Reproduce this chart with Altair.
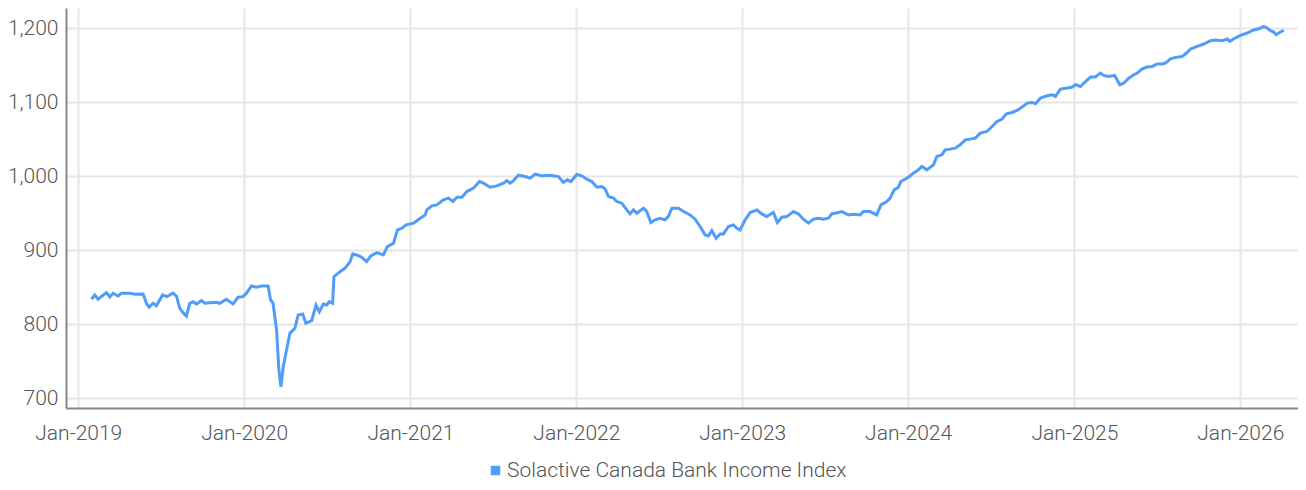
import altair as alt
import pandas as pd

series_name = "Solactive Canada Bank Income Index"

# decimal year, index value
years = [
    2019.080, 2019.099, 2019.119, 2019.170, 2019.190, 2019.210, 2019.240, 2019.260, 2019.310, 2019.341,
    2019.391, 2019.411, 2019.427, 2019.451, 2019.471, 2019.508, 2019.535, 2019.571, 2019.592, 2019.612,
    2019.632, 2019.652, 2019.672, 2019.692, 2019.713, 2019.743, 2019.763, 2019.793, 2019.833, 2019.853,
    2019.893, 2019.933, 2019.963, 2019.993, 2020.014, 2020.044, 2020.074, 2020.104, 2020.144, 2020.159,
    2020.174, 2020.195, 2020.209, 2020.221, 2020.235, 2020.255, 2020.275, 2020.305, 2020.325, 2020.352,
    2020.371, 2020.406, 2020.432, 2020.452, 2020.476, 2020.496, 2020.512, 2020.532, 2020.540, 2020.576,
    2020.607, 2020.637, 2020.653, 2020.677, 2020.707, 2020.737, 2020.761, 2020.798, 2020.837, 2020.861,
    2020.898, 2020.922, 2020.948, 2020.974, 2021.018, 2021.059, 2021.089, 2021.099, 2021.129, 2021.159,
    2021.199, 2021.229, 2021.256, 2021.280, 2021.310, 2021.340, 2021.380, 2021.416, 2021.440, 2021.480,
    2021.521, 2021.561, 2021.581, 2021.601, 2021.621, 2021.651, 2021.691, 2021.722, 2021.752, 2021.792,
    2021.842, 2021.892, 2021.922, 2021.946, 2021.967, 2022.003, 2022.033, 2022.063, 2022.093, 2022.124,
    2022.154, 2022.174, 2022.194, 2022.224, 2022.244, 2022.274, 2022.304, 2022.324, 2022.344, 2022.365,
    2022.405, 2022.425, 2022.449, 2022.475, 2022.505, 2022.535, 2022.555, 2022.576, 2022.616, 2022.646,
    2022.686, 2022.716, 2022.746, 2022.776, 2022.796, 2022.817, 2022.843, 2022.867, 2022.887, 2022.917,
    2022.947, 2022.968, 2022.987, 2023.018, 2023.048, 2023.088, 2023.118, 2023.148, 2023.188, 2023.212,
    2023.239, 2023.269, 2023.309, 2023.339, 2023.369, 2023.399, 2023.429, 2023.459, 2023.490, 2023.520,
    2023.540, 2023.580, 2023.600, 2023.640, 2023.670, 2023.711, 2023.731, 2023.771, 2023.811, 2023.836,
    2023.872, 2023.892, 2023.916, 2023.942, 2023.956, 2023.982, 2024.008, 2024.032, 2024.062, 2024.083,
    2024.113, 2024.153, 2024.173, 2024.203, 2024.223, 2024.253, 2024.283, 2024.313, 2024.344, 2024.374,
    2024.404, 2024.434, 2024.474, 2024.505, 2024.535, 2024.565, 2024.591, 2024.625, 2024.655, 2024.685,
    2024.716, 2024.746, 2024.766, 2024.796, 2024.836, 2024.866, 2024.886, 2024.916, 2024.957, 2024.987,
    2025.007, 2025.037, 2025.057, 2025.097, 2025.127, 2025.157, 2025.177, 2025.207, 2025.242, 2025.274,
    2025.298, 2025.328, 2025.358, 2025.379, 2025.409, 2025.439, 2025.469, 2025.499, 2025.529, 2025.549,
    2025.579, 2025.609, 2025.650, 2025.676, 2025.700, 2025.740, 2025.780, 2025.820, 2025.851, 2025.891,
    2025.921, 2025.937, 2025.961, 2026.001, 2026.042, 2026.081, 2026.112, 2026.142, 2026.162, 2026.182,
    2026.202, 2026.216, 2026.242, 2026.262,
]

values = [
    833.8, 839.6, 834.0, 842.7, 837.0, 841.9, 838.2, 842.0, 842.0, 840.5,
    841.0, 828.4, 823.0, 828.4, 825.0, 839.6, 837.3, 842.0, 838.2, 821.6,
    815.7, 811.2, 828.4, 830.5, 827.4, 831.9, 828.4, 829.2, 829.7, 828.4,
    833.8, 827.4, 836.5, 837.3, 842.0, 851.8, 850.0, 851.8, 851.8, 832.8,
    828.4, 792.0, 738.0, 715.7, 742.7, 765.3, 787.8, 794.6, 812.6, 813.9,
    801.4, 805.0, 826.0, 817.0, 827.4, 826.0, 830.5, 828.4, 864.3, 871.0,
    875.7, 884.6, 895.0, 893.6, 890.5, 884.6, 892.3, 896.8, 893.6, 904.9,
    909.5, 927.4, 929.7, 934.2, 936.5, 943.2, 947.7, 954.5, 959.9, 961.2,
    968.0, 970.3, 965.7, 971.6, 971.6, 979.2, 983.8, 992.7, 990.5, 985.1,
    986.9, 990.5, 994.0, 990.5, 994.0, 1001.3, 999.5, 997.3, 1002.7, 1000.4,
    1001.3, 999.5, 991.4, 995.0, 992.7, 1002.2, 1000.4, 995.9, 992.7, 985.1,
    986.0, 982.4, 972.4, 970.3, 965.7, 963.5, 954.5, 949.0, 954.5, 950.0,
    956.8, 952.2, 937.3, 941.0, 943.2, 941.0, 945.7, 956.8, 956.8, 952.2,
    947.7, 941.9, 932.0, 920.7, 919.3, 926.5, 916.2, 922.0, 922.0, 932.0,
    934.2, 929.7, 927.4, 941.0, 950.9, 954.5, 949.0, 945.4, 950.9, 937.3,
    944.5, 945.4, 952.2, 949.0, 941.9, 936.5, 941.9, 943.2, 941.9, 943.2,
    949.0, 950.9, 952.2, 947.7, 948.6, 947.7, 952.2, 952.2, 947.7, 961.2,
    965.7, 970.3, 981.5, 985.1, 992.7, 995.9, 999.5, 1004.0, 1008.5, 1013.0,
    1008.5, 1015.3, 1026.5, 1028.8, 1035.5, 1036.5, 1037.8, 1042.3, 1049.0, 1050.0,
    1051.4, 1058.1, 1060.3, 1067.0, 1073.8, 1077.0, 1084.2, 1086.0, 1088.6, 1093.2,
    1098.6, 1099.5, 1097.7, 1105.4, 1108.5, 1109.9, 1107.6, 1117.6, 1118.9, 1120.3,
    1123.4, 1121.1, 1125.7, 1133.8, 1133.8, 1139.2, 1136.0, 1134.6, 1136.0, 1123.4,
    1125.7, 1132.4, 1136.9, 1139.2, 1145.0, 1147.3, 1148.1, 1151.4, 1151.4, 1152.7,
    1158.5, 1160.3, 1161.6, 1166.2, 1171.6, 1175.1, 1178.4, 1182.8, 1183.8, 1182.8,
    1185.1, 1181.9, 1185.5, 1190.0, 1193.2, 1197.3, 1199.0, 1202.2, 1200.0, 1196.4,
    1194.6, 1191.0, 1194.6, 1196.8,
]

y_ticks = [700, 800, 900, 1000, 1100, 1200]
x_ticks = ["2019-01-01", "2020-01-01", "2021-01-01", "2022-01-01", "2023-01-01",
           "2024-01-01", "2025-01-01", "2026-01-01"]


def to_date(dy):
    yr = int(dy)
    start = pd.Timestamp(yr, 1, 1)
    days = (pd.Timestamp(yr + 1, 1, 1) - start).days
    return start + pd.Timedelta(days=(dy - yr) * days)


df = pd.DataFrame({
    "date": [to_date(d) for d in years],
    "value": values,
    "series": series_name,
})

LINE = "#4f9df8"
FONT = "Roboto"

chart = alt.Chart(df).mark_line(strokeWidth=3, interpolate="linear").encode(
    x=alt.X(
        "date:T",
        scale=alt.Scale(domain=["2018-12-05", "2026-05-08"]),
        axis=alt.Axis(
            title=None,
            format="%b-%Y",
            values=x_ticks,
            labelPadding=14,
            ticks=False,
        ),
    ),
    y=alt.Y(
        "value:Q",
        scale=alt.Scale(domain=[687, 1227], nice=False, zero=False),
        axis=alt.Axis(
            title=None,
            values=y_ticks,
            format=",.0f",
            labelPadding=8,
            ticks=False,
        ),
    ),
    color=alt.Color(
        "series:N",
        scale=alt.Scale(range=[LINE]),
        legend=alt.Legend(
            title=None,
            orient="none",
            legendX=419,
            legendY=452,
            symbolType="square",
            symbolFillColor=LINE,
            symbolStrokeWidth=0,
            symbolSize=90,
            labelOffset=1,
            labelFont=FONT,
            labelFontSize=21,
            labelFontWeight=300,
            labelColor="#555555",
            labelLimit=0,
        ),
    ),
).properties(
    width=1232,
    height=400,
    padding={"left": 58, "top": 0, "right": 0, "bottom": 74},
    autosize=alt.AutoSizeParams(type="none"),
).configure_view(
    strokeWidth=0
).configure_axis(
    labelFont=FONT,
    labelFontSize=21,
    labelFontWeight=300,
    labelColor="#555555",
    domainColor="#888888",
    domainWidth=2,
    gridColor="#e6e6e6",
    gridWidth=2,
)

chart.save("out.html", embed_options={"renderer": "svg", "actions": False})
